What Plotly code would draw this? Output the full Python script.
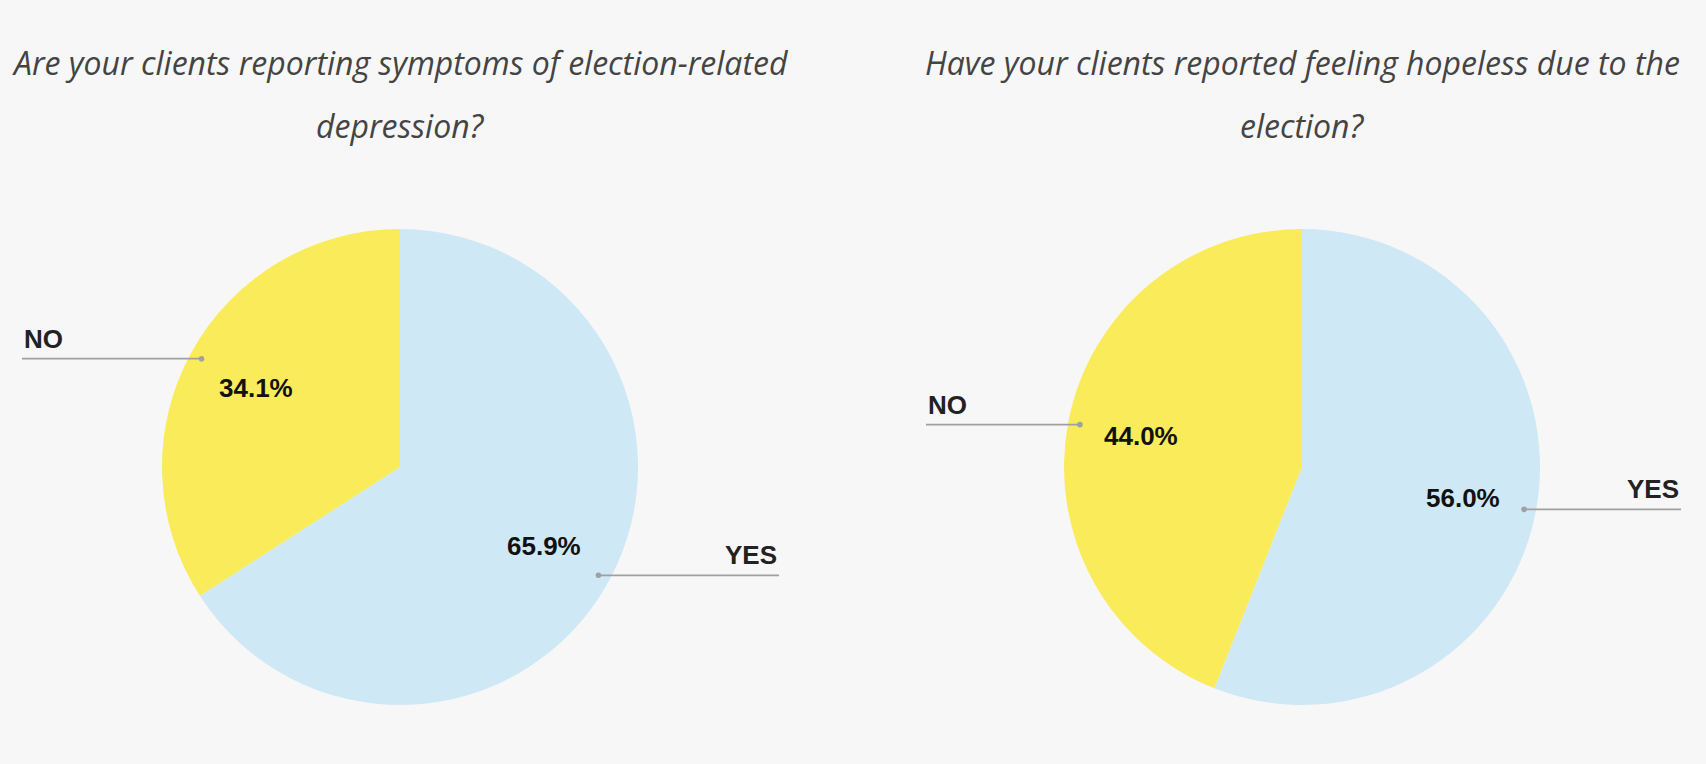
import math
import plotly.graph_objects as go

W, H = 1706, 764

# ---- data ----
titles_left = ["Are your clients reporting symptoms of election-related", "depression?"]
titles_right = ["Have your clients reported feeling hopeless due to the", "election?"]
labels = ["YES", "NO"]
left_values = [65.9, 34.1]
right_values = [56.0, 44.0]

colors = ["#cfe8f5", "#f9eb5a"]
BG = "#f7f7f7"

# ---- layout geometry (pixels) ----
R = 238
pies = [
    dict(values=left_values, cx=400, cy=467, titles=titles_left, title_x=400,
         label_ends={"YES": 779, "NO": 22}),
    dict(values=right_values, cx=1302, cy=467, titles=titles_right, title_x=1302,
         label_ends={"YES": 1681, "NO": 926}),
]


def px(x):
    return x / W


def py(y):
    return 1 - y / H


fig = go.Figure()
shapes = []
annotations = []
LABEL_FONT = "Liberation Sans, Arial"

for p in pies:
    cx, cy = p["cx"], p["cy"]
    fig.add_trace(go.Pie(
        labels=labels, values=p["values"], sort=False, direction="clockwise",
        rotation=0, textinfo="none", hoverinfo="label+percent",
        marker=dict(colors=colors, line=dict(width=0)),
        domain=dict(x=[px(cx - R), px(cx + R)], y=[py(cy + R), py(cy - R)]),
        showlegend=False,
    ))
    total = sum(p["values"])
    cum = 0.0
    for lab, v in zip(labels, p["values"]):
        mid = (cum + v / 2) / total * 2 * math.pi
        cum += v
        s, c = math.sin(mid), math.cos(mid)
        # percentage label
        tx, ty = cx + 0.69 * R * s, cy - 0.69 * R * c
        annotations.append(dict(
            x=px(tx), y=py(ty), xref="paper", yref="paper", showarrow=False,
            text="<b>%.1f%%</b>" % (v / total * 100),
            font=dict(family=LABEL_FONT, size=26, color="#111"),
            xanchor="center", yanchor="middle"))
        # leader line
        dx, dy = cx + 0.95 * R * s, cy - 0.95 * R * c
        ex = p["label_ends"][lab]
        shapes.append(dict(type="line", xref="paper", yref="paper",
                           x0=px(dx), y0=py(dy), x1=px(ex), y1=py(dy),
                           line=dict(color="#a0a0a0", width=1.8)))
        shapes.append(dict(type="circle", xref="paper", yref="paper",
                           x0=px(dx - 2.8), x1=px(dx + 2.8),
                           y0=py(dy + 2.8), y1=py(dy - 2.8),
                           fillcolor="#a0a0a0", line=dict(width=0)))
        annotations.append(dict(
            x=px(ex), y=py(dy - 3), xref="paper", yref="paper", showarrow=False,
            text="<b>%s</b>" % lab,
            font=dict(family=LABEL_FONT, size=26, color="#222"),
            xanchor="left" if ex < dx else "right", yanchor="bottom"))
    # titles
    for i, t in enumerate(p["titles"]):
        annotations.append(dict(
            x=px(p["title_x"]), y=py(62 + 63 * i), xref="paper", yref="paper",
            showarrow=False, text="<i>%s</i>" % t,
            font=dict(family="Open Sans", size=32, color="#444444"),
            xanchor="center", yanchor="middle"))

fig.update_layout(
    width=W, height=H, margin=dict(l=0, r=0, t=0, b=0),
    paper_bgcolor=BG, plot_bgcolor=BG,
    shapes=shapes, annotations=annotations,
)

fig.write_html(
    "out.html",
    config={"displayModeBar": False},
    post_script="document.body.style.margin='0';"
                "document.body.style.background='%s';"
                "document.documentElement.style.background='%s';" % (BG, BG),
)
